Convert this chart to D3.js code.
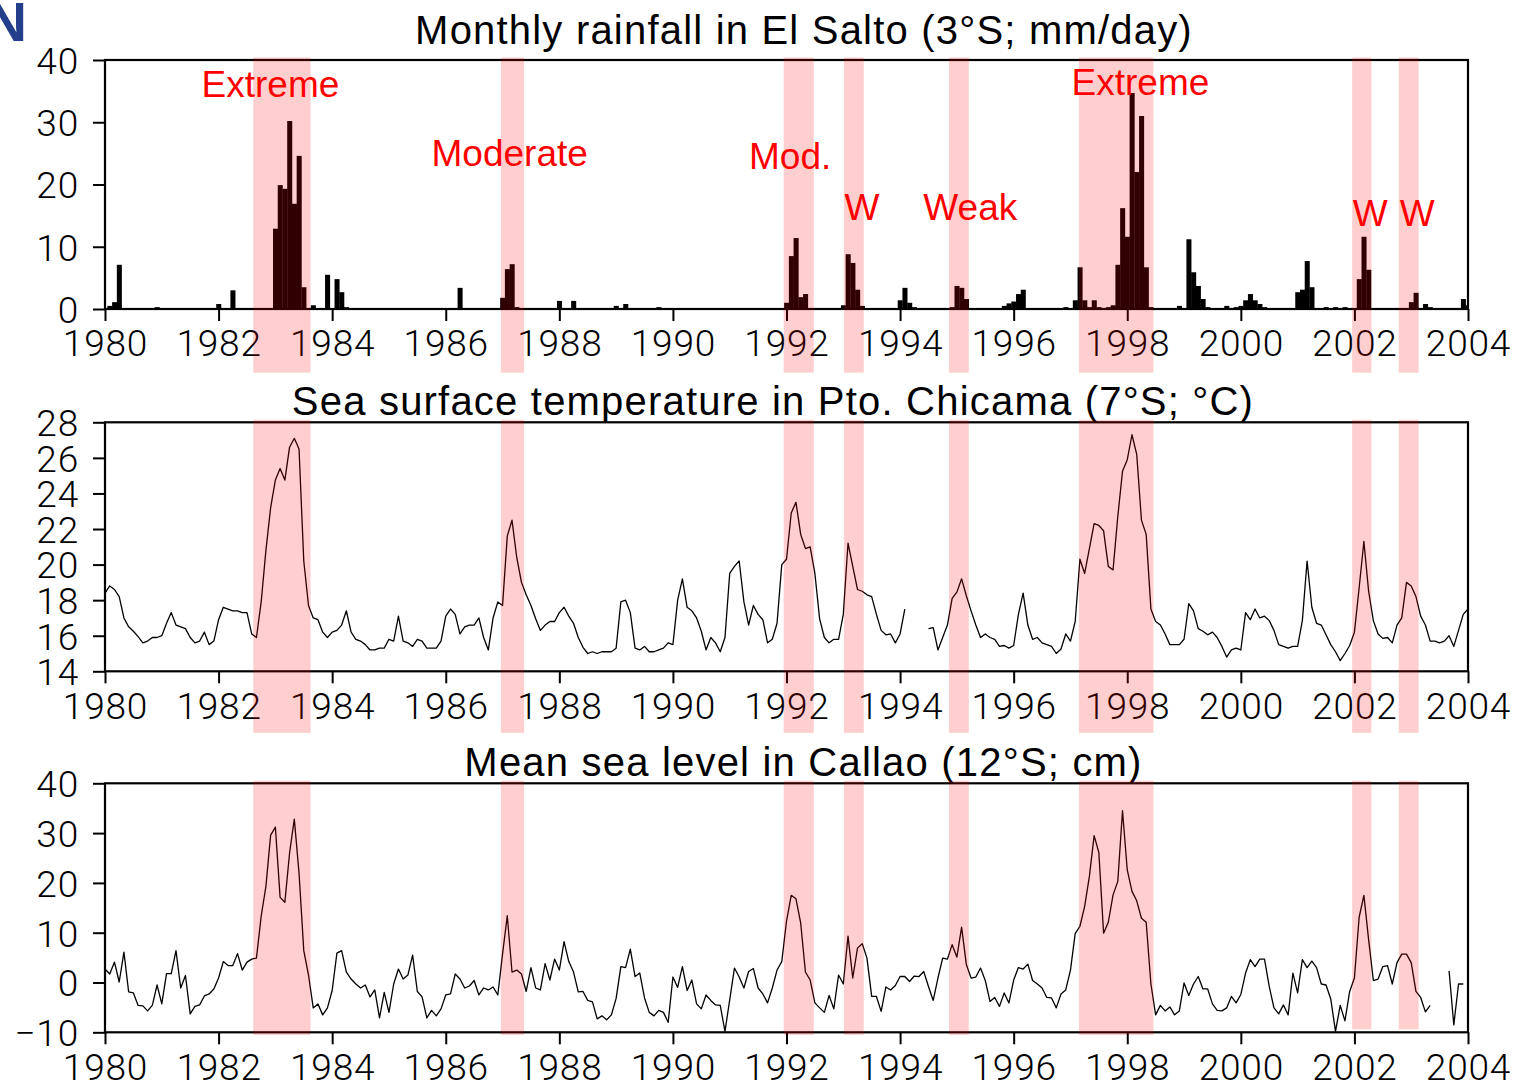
<!DOCTYPE html>
<html>
<head>
<meta charset="utf-8">
<script src="https://cdn.jsdelivr.net/npm/d3@7"></script>
<style>
  body { margin: 0; background: #fff; }
  svg { display: block; }
</style>
</head>
<body>
<div id="chart"></div>
<script>
// monthly values, index j = months since Jan 1980 (Jan 1980 .. Jan 2004)
const startYear = 1980
const endYear = 2004
const yearTicks = d3.range(1980, 2005, 2)

// El Salto rainfall (mm/day), one row per year
const rainfall = [
  [0, 0.5, 1.1, 7.1, 0, 0, 0, 0, 0, 0, 0, 0.3],          // 1980
  [0, 0, 0, 0, 0, 0, 0, 0, 0, 0, 0, 0],
  [0.8, 0, 0, 3.0, 0, 0, 0, 0, 0, 0, 0, 0],
  [12.9, 19.9, 19.3, 30.2, 16.9, 24.6, 3.5, 0, 0.6, 0, 0, 5.5],
  [0, 4.8, 2.7, 0.3, 0, 0, 0, 0, 0, 0, 0, 0],
  [0, 0, 0, 0, 0, 0, 0, 0, 0, 0, 0, 0],                   // 1985
  [0, 0, 0, 3.4, 0, 0, 0, 0, 0, 0, 0, 0],
  [1.8, 6.4, 7.2, 0.3, 0, 0, 0, 0, 0, 0, 0, 0],
  [1.3, 0, 0, 1.3, 0, 0, 0, 0, 0, 0, 0, 0],
  [0.5, 0, 0.8, 0, 0, 0, 0, 0, 0, 0.3, 0, 0],
  [0, 0, 0, 0, 0, 0, 0, 0, 0, 0, 0, 0],                   // 1990
  [0, 0, 0, 0, 0, 0, 0, 0, 0, 0, 0, 0],
  [1.0, 8.5, 11.4, 1.9, 2.4, 0, 0, 0, 0, 0, 0, 0],
  [0.6, 8.8, 7.4, 3.1, 0.5, 0, 0, 0, 0, 0, 0, 0],
  [1.4, 3.4, 1.0, 0.3, 0, 0, 0, 0, 0, 0, 0, 0.3],
  [3.7, 3.4, 1.6, 0, 0, 0, 0, 0, 0, 0, 0.5, 0.9],         // 1995
  [1.2, 2.4, 3.1, 0, 0, 0, 0, 0, 0, 0, 0, 0.3],
  [0, 1.4, 6.7, 1.4, 0.3, 1.4, 0.3, 0, 0.3, 0.6, 7.1, 16.2],
  [11.6, 34.7, 22.0, 31.0, 6.7, 0.3, 0, 0, 0, 0, 0, 0.5],
  [0, 11.2, 5.9, 3.7, 1.6, 0.3, 0, 0, 0, 0.5, 0, 0.3],
  [0.5, 1.4, 2.4, 1.4, 0.8, 0.3, 0, 0, 0, 0, 0, 0],       // 2000
  [2.7, 3.1, 7.7, 3.5, 0, 0, 0.3, 0, 0.3, 0, 0.3, 0],
  [0, 4.8, 11.6, 6.3, 0, 0, 0, 0, 0, 0, 0, 0],
  [1.1, 2.6, 0, 0.8, 0.3, 0, 0, 0, 0, 0, 0, 1.6],
  [0.6]                                                    // Jan 2004
].flat()

// Pto. Chicama sea surface temperature (deg C)
const sst = [
  [18.4, 18.8, 18.6, 18.2, 17.0, 16.5, 16.25, 15.95, 15.6, 15.7, 15.9, 15.9],  // 1980
  [16.0, 16.7, 17.3, 16.6, 16.5, 16.4, 15.9, 15.6, 15.7, 16.2, 15.5, 15.7],
  [16.9, 17.6, 17.5, 17.4, 17.4, 17.3, 17.3, 16.1, 15.9, 17.9, 20.8, 23.2],
  [24.75, 25.4, 24.75, 26.6, 27.1, 26.5, 20.2, 17.7, 17.0, 16.9, 16.2, 15.9],
  [16.2, 16.3, 16.6, 17.4, 16.2, 15.8, 15.7, 15.5, 15.2, 15.2, 15.3, 15.3],
  [15.8, 15.7, 17.1, 15.7, 15.6, 15.4, 15.8, 15.7, 15.3, 15.3, 15.3, 15.7],    // 1985
  [17.1, 17.5, 17.2, 16.1, 16.5, 16.6, 16.6, 17.0, 15.9, 15.2, 17.0, 17.9],
  [17.7, 21.6, 22.5, 20.4, 19.0, 18.3, 17.7, 16.95, 16.3, 16.6, 16.8, 16.8],
  [17.3, 17.6, 17.1, 16.7, 15.9, 15.35, 15.0, 15.1, 15.0, 15.1, 15.1, 15.1],
  [15.3, 17.9, 18.0, 17.3, 15.3, 15.2, 15.4, 15.1, 15.1, 15.2, 15.3, 15.6],
  [15.5, 18.0, 19.2, 17.6, 17.4, 17.0, 16.25, 15.2, 15.9, 15.6, 15.1, 15.9],   // 1990
  [19.5, 19.9, 20.2, 17.9, 16.6, 17.7, 17.2, 16.9, 15.6, 15.8, 16.7, 20.0],
  [20.3, 22.9, 23.5, 21.7, 20.9, 21.0, 19.5, 16.95, 15.9, 15.6, 15.8, 15.8],
  [17.2, 21.2, 19.9, 18.6, 18.5, 18.3, 18.2, 17.2, 16.3, 16.05, 16.1, 15.6],
  [16.1, 17.5, null, null, null, null, 16.4, 16.45, 15.2, 15.9, 16.6, 18.1],
  [18.45, 19.2, 18.25, 17.4, 16.6, 15.9, 16.1, 15.9, 15.8, 15.4, 15.45, 15.3], // 1995
  [15.45, 17.2, 18.4, 16.6, 15.8, 15.9, 15.6, 15.5, 15.4, 15.0, 15.25, 16.1],
  [15.7, 16.8, 20.3, 19.5, 20.9, 22.3, 22.2, 21.9, 19.9, 19.7, 22.7, 25.25],
  [25.9, 27.3, 26.2, 22.5, 21.7, 17.5, 16.8, 16.6, 16.1, 15.5, 15.5, 15.5],
  [15.8, 17.8, 17.4, 16.4, 16.25, 16.05, 16.2, 15.9, 15.4, 14.8, 15.2, 15.3],
  [15.2, 17.3, 16.9, 17.5, 17.0, 17.1, 16.85, 16.3, 15.5, 15.4, 15.3, 15.4],   // 2000
  [15.4, 16.85, 20.2, 17.6, 16.7, 16.6, 16.05, 15.5, 15.1, 14.6, 15.0, 15.45],
  [16.2, 18.7, 21.3, 18.5, 16.85, 16.1, 15.85, 15.9, 15.6, 16.6, 17.0, 19.0],
  [18.8, 18.2, 17.1, 16.6, 15.7, 15.7, 15.6, 15.7, 16.0, 15.4, 16.3, 17.2],
  [17.5]
].flat()

// Callao mean sea level anomaly (cm)
const seaLevel = [
  [2.7, 1.7, 4.1, 0.1, 6.1, -1.9, -2.1, -4.6, -4.7, -5.7, -4.6, -0.5],       // 1980
  [-4.3, 1.8, 1.8, 6.4, -1.1, 1.4, -6.3, -4.8, -4.5, -2.7, -2.3, -1.3],
  [0.9, 4.2, 3.4, 3.4, 5.8, 2.5, 4.1, 4.7, 4.9, 13.3, 19.3, 29.6],
  [31.2, 17.1, 16.1, 26.0, 32.8, 22.0, 6.4, 1.5, -5.1, -4.3, -6.5, -5.1],
  [-1.6, 5.9, 6.4, 2.1, 0.7, -0.3, -1.1, -0.5, -2.9, -1.5, -7.1, -2.0],
  [-6.0, -0.3, 2.7, 0.7, 1.5, 5.5, -1.8, -2.9, -7.1, -5.6, -6.7, -5.3],      // 1985
  [-2.5, -2.3, 1.7, 0.7, -1.1, -0.7, 0.4, -2.5, -1.1, -1.5, -0.9, -2.5],
  [5.7, 13.4, 2.1, 2.5, 1.7, -1.8, 3.0, -1.1, -1.5, 3.8, 0.5, 4.7],
  [2.5, 8.2, 4.2, 2.1, -1.9, -1.8, -3.6, -3.9, -7.3, -6.7, -7.5, -6.5],
  [-3.2, 3.2, 3.0, 6.7, 1.2, 1.9, -3.1, -6.0, -6.7, -5.6, -6.0, -8.0],
  [1.1, -1.0, 3.2, -1.6, 0.5, -4.3, -5.3, -2.5, -3.6, -4.5, -4.6, -9.8],     // 1990
  [-3.5, 2.9, 1.1, -1.1, 2.2, 2.8, -1.1, -2.3, -4.1, -1.1, 2.5, 4.2],
  [12.3, 17.5, 16.8, 11.9, 2.1, 0.5, -4.1, -5.1, -6.0, -2.6, -5.3, 1.5],
  [-0.3, 9.3, 0.9, 6.9, 7.8, 4.9, -2.8, -2.8, -5.8, -0.9, -1.5, -0.6],
  [1.2, 1.2, 0.2, 1.3, 1.2, 2.2, -0.8, -3.6, 0.9, 4.9, 4.7, 7.6],
  [5.1, 11.1, 3.6, 0.9, 1.1, 2.9, 0.4, -3.8, -3.0, -4.8, -2.1, -4.1],        // 1995
  [0.5, 3.0, 2.7, 3.7, 0.4, -0.3, -1.1, -3.0, -3.1, -5.1, -2.3, -1.5],
  [2.5, 9.8, 11.3, 15.3, 21.3, 29.5, 26.1, 9.9, 12.1, 17.6, 20.3, 34.5],
  [22.6, 18.3, 16.4, 12.9, 12.1, -0.3, -6.5, -4.6, -5.7, -4.9, -6.5, -5.7],
  [-0.1, -2.6, -0.3, 1.2, -1.3, -1.3, -4.3, -5.6, -5.7, -5.1, -2.8, -4.1],
  [-2.4, 1.9, 4.6, 3.2, 4.7, 4.7, -0.8, -5.1, -6.3, -4.5, -6.5, 1.9],        // 2000
  [-2.1, 4.6, 3.0, 4.3, 3.0, -0.3, -0.5, -3.3, -9.8, -4.6, -7.7, -1.8],
  [0.9, 13.1, 17.5, 8.6, 0.4, 0.7, 3.2, 3.4, -0.3, 4.0, 5.7, 5.7],
  [4.0, -1.8, -3.0, -5.9, -4.6, null, null, null, 2.3, -8.5, -0.3, -0.3]
].flat()

// El Nino episodes (decimal years) and their labels
const eventStart = [1982.61, 1986.97, 1991.95, 1993.01, 1994.86, 1997.15, 2001.96, 2002.78]
const eventEnd   = [1983.62, 1987.38, 1992.48, 1993.36, 1995.21, 1998.46, 2002.30, 2003.13]
const eventLabels = ['Extreme', 'Moderate', 'Mod.', 'W', 'Weak', 'Extreme', 'W', 'W']
// where each label sits in the rainfall panel (year, mm/day)
const labelYear  = [1981.70, 1985.75, 1991.34, 1993.02, 1994.41, 1997.02, 2001.97, 2002.80]
const labelValue = [34.0, 22.9, 22.5, 14.3, 14.3, 34.4, 13.4, 13.4]

const titles = [
  'Monthly rainfall in El Salto (3°S; mm/day)',
  'Sea surface temperature in Pto. Chicama (7°S; °C)',
  'Mean sea level in Callao (12°S; cm)'
]

// layout
const W = 1517, H = 1085
const left = 105, right = 1468
const panelH = 249
const tickFont = 'Roboto, "Liberation Sans", Arial, sans-serif'
const titleFont = '"Liberation Sans", Arial, sans-serif'
const bandFill = 'rgba(255,0,0,0.19)'

const svg = d3.select('#chart').append('svg')
    .attr('width', W)
    .attr('height', H)

svg.append('defs').append('clipPath').attr('id', 'plotclip')
    .append('rect').attr('x', left).attr('y', 0).attr('width', right - left).attr('height', H)

const x = d3.scaleLinear().domain([startYear, endYear]).range([left, right])
const monthTime = j => startYear + j / 12

const panels = [
    { top: 60, domain: [0, 40], ticks: [0, 10, 20, 30, 40], kind: 'bar', values: rainfall,
      title: titles[0], titleX: 804, titleY: 43.5, bandBottom: [63.7] },
    { top: 422.3, domain: [14, 28], ticks: d3.range(14, 29, 2), kind: 'line', values: sst,
      title: titles[1], titleX: 773, titleY: 415, bandBottom: [61.6] },
    { top: 783.3, domain: [-10, 40], ticks: [-10, 0, 10, 20, 30, 40], kind: 'line', values: seaLevel,
      title: titles[2], titleX: 803.5, titleY: 776, bandBottom: [2.6, 2.6, 2.6, 2.6, 2.6, 2.6, -3, -3] }
]

panels.forEach((p, pi) => {
    const g = svg.append('g').attr('class', 'panel')
    const bottom = p.top + panelH
    const y = d3.scaleLinear().domain(p.domain).range([bottom, p.top])
    const pts = p.values.map((v, j) => ({ t: monthTime(j), v: v }))

    // title
    g.append('text')
        .attr('x', p.titleX)
        .attr('y', p.titleY)
        .attr('text-anchor', 'middle')
        .attr('font-family', titleFont)
        .attr('font-size', 40)
        .attr('letter-spacing', 1.2)
        .attr('fill', '#000')
        .text(p.title)

    // data
    if (p.kind === 'bar') {
        const bw = x(startYear + 1 / 12) - x(startYear)
        g.append('g').attr('clip-path', 'url(#plotclip)')
            .selectAll('rect')
            .data(pts.filter(d => d.v > 0))
            .join('rect')
            .attr('x', d => x(d.t) - bw / 2)
            .attr('width', bw + 0.3)
            .attr('y', d => y(d.v))
            .attr('height', d => y(0) - y(d.v))
            .attr('fill', '#000')
    } else {
        const line = d3.line()
            .defined(d => d.v !== null)
            .x(d => x(d.t))
            .y(d => y(d.v))
        g.append('path')
            .datum(pts)
            .attr('d', line)
            .attr('fill', 'none')
            .attr('stroke', '#000')
            .attr('stroke-width', 1.3)
            .attr('stroke-linejoin', 'round')
    }

    // axes
    const yAxis = d3.axisLeft(y)
        .tickValues(p.ticks)
        .tickSize(12)
        .tickPadding(14)
        .tickFormat(d => d < 0 ? '\u2212' + Math.abs(d) : d)
    const ya = g.append('g').attr('transform', `translate(${left},0)`).call(yAxis)

    const xAxis = d3.axisBottom(x)
        .tickValues(yearTicks)
        .tickSize(12)
        .tickPadding(9)
        .tickFormat(d3.format('d'))
    const xa = g.append('g').attr('transform', `translate(0,${bottom})`).call(xAxis)

    ;[ya, xa].forEach(a => {
        a.select('.domain').remove()
        a.selectAll('.tick line').attr('stroke', '#000').attr('stroke-width', 2)
        a.selectAll('.tick text')
            .attr('fill', '#000')
            .attr('font-family', tickFont)
            .attr('font-weight', 300)
            .attr('font-size', 37)
            .attr('letter-spacing', 0.8)
    })
    ya.selectAll('.tick text').attr('dy', '0.36em')

    // frame
    g.append('rect')
        .attr('x', left)
        .attr('y', p.top)
        .attr('width', right - left)
        .attr('height', panelH)
        .attr('fill', 'none')
        .attr('stroke', '#000')
        .attr('stroke-width', 2.2)

    // event bands, laid over everything
    g.append('g').selectAll('rect')
        .data(eventStart.map((s, i) => ({ s, e: eventEnd[i], i })))
        .join('rect')
        .attr('x', d => x(d.s))
        .attr('width', d => x(d.e) - x(d.s))
        .attr('y', p.top - 2.5)
        .attr('height', d => bottom - p.top + 2.5 + (p.bandBottom[d.i] !== undefined ? p.bandBottom[d.i] : p.bandBottom[0]))
        .attr('fill', bandFill)

    // event labels in the rainfall panel
    if (pi === 0) {
        g.append('g').selectAll('text')
            .data(eventLabels.map((t, i) => ({ t, yr: labelYear[i], v: labelValue[i] })))
            .join('text')
            .attr('x', d => x(d.yr))
            .attr('y', d => y(d.v))
            .attr('font-family', titleFont)
            .attr('font-size', 37)
            .attr('fill', '#ff0000')
            .text(d => d.t)
    }
})

// panel letter, cut at the page edge
svg.append('text')
    .attr('x', 27)
    .attr('y', 41)
    .attr('text-anchor', 'end')
    .attr('font-family', titleFont)
    .attr('font-weight', 'bold')
    .attr('font-size', 56)
    .attr('fill', '#233e8b')
    .text('N')
</script>
</body>
</html>
